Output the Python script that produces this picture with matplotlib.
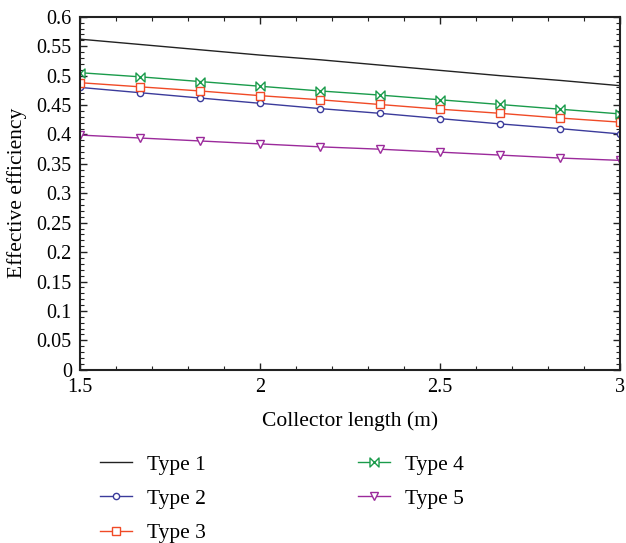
import numpy as np
import matplotlib.pyplot as plt
from matplotlib.path import Path
from matplotlib.ticker import MultipleLocator

# collector length (m), 10 points from 1.5 to 3
length = [1.5, 1.667, 1.833, 2.0, 2.167, 2.333, 2.5, 2.667, 2.833, 3.0]

type1 = [0.562, 0.553, 0.544, 0.535, 0.527, 0.518, 0.509, 0.500, 0.492, 0.483]
type2 = [0.480, 0.471, 0.462, 0.453, 0.444, 0.436, 0.427, 0.418, 0.410, 0.401]
type3 = [0.488, 0.481, 0.474, 0.466, 0.459, 0.451, 0.443, 0.436, 0.428, 0.421]
type4 = [0.505, 0.498, 0.490, 0.482, 0.474, 0.467, 0.459, 0.451, 0.443, 0.435]
type5 = [0.399, 0.394, 0.389, 0.384, 0.379, 0.375, 0.370, 0.365, 0.360, 0.356]

labels = ["Type 1", "Type 2", "Type 3", "Type 4", "Type 5"]
xticks = [1.5, 2, 2.5, 3]
xticklabels = ['1.5', '2', '2.5', '3']
yticklabels = ['0', '0.05', '0.1', '0.15', '0.2', '0.25', '0.3', '0.35',
               '0.4', '0.45', '0.5', '0.55', '0.6']

plt.rcParams['font.family'] = ['Liberation Serif', 'DejaVu Serif']

# bowtie marker for type 4
bowtie = Path([(-1, -1), (1, 1), (1, -1), (-1, 1), (-1, -1)],
              [Path.MOVETO, Path.LINETO, Path.LINETO, Path.LINETO, Path.CLOSEPOLY])

fig = plt.figure(figsize=(6.26, 5.43), dpi=100)
ax = fig.add_axes([0.128, 0.319, 0.862, 0.650])

ax.plot(length, type1, color='#222222', lw=1.0, label=labels[0])
ax.plot(length, type2, color='#3b3b9b', lw=1.0, marker='o', ms=4.5,
        mfc='white', mew=1.0, label=labels[1])
ax.plot(length, type3, color='#f04a26', lw=1.0, marker='s', ms=5.5,
        mfc='white', mew=1.0, label=labels[2])
ax.plot(length, type4, color='#1a9b4b', lw=1.0, marker=bowtie, ms=6.5,
        mfc='white', mew=1.0, label=labels[3])
ax.plot(length, type5, color='#9b2a9b', lw=1.0, marker='v', ms=5.5,
        mfc='white', mew=1.0, label=labels[4])

ax.set_xlim(1.5, 3)
ax.set_ylim(0, 0.6)
ax.set_xticks(xticks)
ax.set_xticklabels(xticklabels)
ax.xaxis.set_minor_locator(MultipleLocator(0.1))
ax.set_yticks(np.arange(0, 0.601, 0.05))
ax.set_yticklabels(yticklabels)
ax.yaxis.set_minor_locator(MultipleLocator(0.01))

ax.tick_params(which='both', direction='in', top=True, right=True,
               labelsize=14.5, color='#222222')
ax.tick_params(which='major', length=5, width=1.0)
ax.tick_params(which='minor', length=3, width=0.8)
ax.tick_params(axis='x', pad=6)
ax.tick_params(axis='y', pad=6)
for s in ax.spines.values():
    s.set_linewidth(1.5)
    s.set_color('#222222')

ax.set_xlabel('Collector length (m)', fontsize=15.5, labelpad=10)
ax.set_ylabel('Effective efficiency', fontsize=15.5, labelpad=7)

handles, labs = ax.get_legend_handles_labels()
fig.legend(handles, labs, loc='upper left', bbox_to_anchor=(0.129, 0.198),
           ncol=2, frameon=False, fontsize=15.5, handlelength=1.5,
           columnspacing=7.05, labelspacing=0.65, handletextpad=0.7)

fig.savefig('out.png', dpi=100)
